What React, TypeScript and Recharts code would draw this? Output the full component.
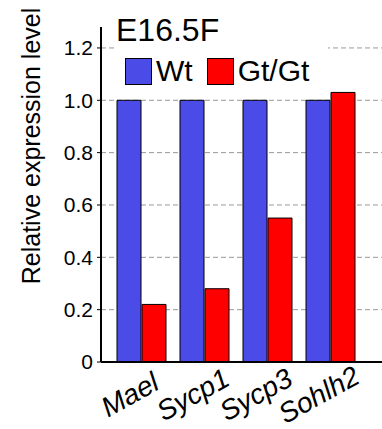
import { Bar, BarChart, CartesianGrid, XAxis, YAxis } from "recharts";

const genes = ["Mael", "Sycp1", "Sycp3", "Sohlh2"];
const wtValues = [1.0, 1.0, 1.0, 1.0];
const gtValues = [0.22, 0.28, 0.55, 1.03];
const yTicks = [0, 0.2, 0.4, 0.6, 0.8, 1.0, 1.2];
const seriesNames = ["Wt", "Gt/Gt"];

const data = genes.map((name, i) => ({ name, wt: wtValues[i], gt: gtValues[i] }));

const FONT = "'Liberation Sans', Arial, Helvetica, sans-serif";
const BLUE = "#4b4be8";
const RED = "#ff0000";
const seriesColors = [BLUE, RED];

function GeneTick(props: any) {
  const { x, y, payload } = props;
  return (
    <text
      transform={`translate(${x - 7},${y + 33}) rotate(-29)`}
      textAnchor="middle"
      fontFamily={FONT}
      fontStyle="italic"
      fontSize={28}
      fill="#000"
    >
      {payload.value}
    </text>
  );
}

function LegendBox() {
  return (
    <div
      style={{
        position: "absolute",
        left: 114,
        top: 14,
        width: 214,
        height: 76,
        background: "#fff",
        fontFamily: FONT,
        color: "#000",
      }}
    >
      <div style={{ fontSize: 32, lineHeight: "32px", paddingLeft: 2 }}>E16.5F</div>
      <div style={{ display: "flex", alignItems: "center", marginTop: 11 }}>
        {seriesNames.map((name, i) => (
          <div key={name} style={{ display: "flex", alignItems: "center", marginRight: 3 }}>
            <span
              style={{
                display: "inline-block",
                width: 25,
                height: 25,
                background: seriesColors[i],
                border: "1px solid #000",
                marginLeft: 11,
                marginRight: 4,
              }}
            />
            <span style={{ fontSize: 30, lineHeight: "28px" }}>{name}</span>
          </div>
        ))}
      </div>
    </div>
  );
}

export default function App() {
  return (
    <div style={{ position: "absolute", left: 0, top: 0, width: 382, height: 429, background: "#fff" }}>
      <BarChart
        width={382}
        height={429}
        data={data}
        margin={{ top: 27, right: 0, left: 0, bottom: 37 }}
        barSize={24}
        barGap={1}
      >
        <CartesianGrid
          horizontal
          vertical={false}
          horizontalValues={yTicks.slice(1)}
          stroke="#999"
          strokeDasharray="5 3"
        />
        <XAxis
          dataKey="name"
          height={30}
          padding={{ left: 9, right: 20 }}
          tick={<GeneTick />}
          tickLine={false}
          axisLine={{ stroke: "#000", strokeWidth: 2 }}
          interval={0}
        />
        <YAxis
          width={101}
          domain={[0, 1.28]}
          ticks={yTicks}
          tickFormatter={(v: number) => (v === 0 ? "0" : v.toFixed(1))}
          tick={{ fill: "#000", fontSize: 21, fontFamily: FONT }}
          tickSize={4}
          tickMargin={4}
          tickLine={{ stroke: "#000" }}
          axisLine={{ stroke: "#000", strokeWidth: 2 }}
          allowDataOverflow
          label={{
            content: () => (
              <text
                transform="translate(31,146) rotate(-90)"
                textAnchor="middle"
                dominantBaseline="central"
                fontFamily={FONT}
                fontSize={25}
                fill="#000"
              >
                Relative expression level
              </text>
            ),
          }}
        />
        <Bar dataKey="wt" name={seriesNames[0]} fill={BLUE} stroke="#000" strokeWidth={1} isAnimationActive={false} />
        <Bar dataKey="gt" name={seriesNames[1]} fill={RED} stroke="#000" strokeWidth={1} isAnimationActive={false} />
      </BarChart>
      <LegendBox />
    </div>
  );
}
